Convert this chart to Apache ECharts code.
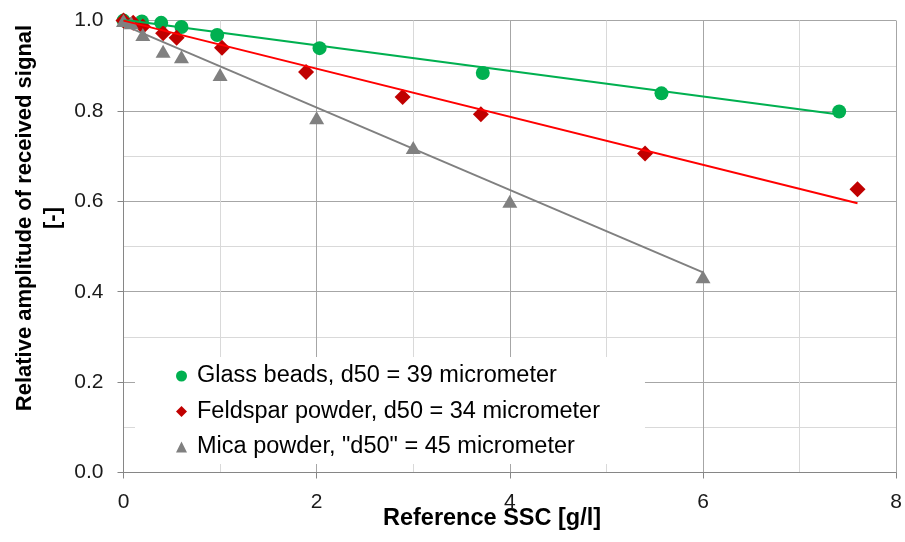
<!DOCTYPE html>
<html>
<head>
<meta charset="utf-8">
<title>Relative amplitude vs SSC</title>
<script src="https://cdn.jsdelivr.net/npm/echarts@6/dist/echarts.min.js"></script>
<style>
  html, body { margin: 0; padding: 0; background: #fff; }
  #chart { width: 905px; height: 542px; }
</style>
</head>
<body>
<div id="chart"></div>
<script>
const glassName = 'Glass beads, d50 = 39 micrometer'
const glassX = [0, 0.19, 0.39, 0.6, 0.97, 2.03, 3.72, 5.57, 7.41]
const glassY = [1.0, 0.998, 0.995, 0.986, 0.968, 0.939, 0.884, 0.839, 0.799]

const feldName = 'Feldspar powder, d50 = 34 micrometer'
const feldX = [0, 0.1, 0.2, 0.41, 0.55, 1.02, 1.89, 2.89, 3.7, 5.4, 7.6]
const feldY = [1.0, 0.995, 0.987, 0.972, 0.962, 0.94, 0.886, 0.831, 0.793, 0.706, 0.627]

const micaName = 'Mica powder, "d50" = 45 micrometer'
const micaX = [0, 0.08, 0.2, 0.41, 0.6, 1.0, 2.0, 3.0, 4.0, 6.0]
const micaY = [1.0, 0.995, 0.969, 0.932, 0.92, 0.881, 0.785, 0.719, 0.6, 0.433]

// linear trend lines (start / end as drawn)
const glassFitX = [0, 7.35]
const glassFitY = [1.002, 0.794]
const feldFitX = [0, 7.6]
const feldFitY = [1.0, 0.596]
const micaFitX = [0, 6.0]
const micaFitY = [0.99, 0.443]

const xTicks = [0, 2, 4, 6, 8]
const yTicks = [0, 0.2, 0.4, 0.6, 0.8, 1.0]

const font = "'Liberation Sans', Arial, sans-serif"

function pairs(xs, ys) {
  return xs.map((x, i) => [x, ys[i]])
}

const chart = echarts.init(document.getElementById('chart'))

const axisCommon = {
  type: 'value',
  axisLine: { show: true, lineStyle: { color: '#868686', width: 1 } },
  axisTick: { show: true, inside: false, length: 6, lineStyle: { color: '#868686' } },
  splitLine: { show: true, lineStyle: { color: '#a6a6a6', width: 1 } },
  minorTick: { show: false, splitNumber: 2 },
  minorSplitLine: { show: true, lineStyle: { color: '#d9d9d9', width: 1 } },
}

const option = {
  animation: false,
  backgroundColor: '#fff',
  textStyle: { fontFamily: font },
  grid: { left: 123.5, right: 5, top: 20.6, bottom: 69.5, containLabel: false },
  xAxis: Object.assign({}, axisCommon, {
    min: xTicks[0],
    max: xTicks[xTicks.length - 1],
    interval: 2,
    axisLabel: { margin: 19, fontSize: 21, color: '#1a1a1a', fontFamily: font },
  }),
  yAxis: Object.assign({}, axisCommon, {
    min: yTicks[0],
    max: yTicks[yTicks.length - 1],
    interval: 0.2,
    axisLabel: {
      margin: 20,
      fontSize: 21,
      color: '#1a1a1a',
      fontFamily: font,
      formatter: (v) => v.toFixed(1),
    },
  }),
  legend: {
    data: [glassName, feldName, micaName],
    orient: 'vertical',
    left: 135,
    top: 357,
    padding: [7, 45, 5, 41],
    itemGap: 11.5,
    itemWidth: 11,
    itemHeight: 11,
    backgroundColor: '#fff',
    z: 10,
    textStyle: {
      fontSize: 23.5,
      color: '#000',
      lineHeight: 24,
      fontFamily: font,
      padding: [0, 0, 0, 5],
    },
  },
  graphic: [
    {
      type: 'text',
      x: 39,
      y: 218,
      rotation: Math.PI / 2,
      style: {
        text: 'Relative amplitude of received signal\n[-]',
        font: 'bold 22px ' + font,
        fill: '#000',
        align: 'center',
        verticalAlign: 'middle',
        lineHeight: 28,
      },
    },
    {
      type: 'text',
      x: 492,
      y: 519,
      style: {
        text: 'Reference SSC [g/l]',
        font: 'bold 23.5px ' + font,
        fill: '#000',
        align: 'center',
        verticalAlign: 'middle',
      },
    },
  ],
  series: [
    {
      name: glassName,
      type: 'scatter',
      symbol: 'circle',
      symbolSize: 14,
      itemStyle: { color: '#00b050', opacity: 1 },
      data: pairs(glassX, glassY),
      z: 2,
    },
    {
      name: feldName,
      type: 'scatter',
      symbol: 'diamond',
      symbolSize: 16,
      itemStyle: { color: '#c00000', opacity: 1 },
      data: pairs(feldX, feldY),
      z: 3,
    },
    {
      name: micaName,
      type: 'scatter',
      symbol: 'triangle',
      symbolSize: [15, 13],
      itemStyle: { color: '#808080', opacity: 1 },
      data: pairs(micaX, micaY),
      z: 4,
    },
    {
      name: 'glass trend',
      type: 'line',
      symbol: 'none',
      silent: true,
      lineStyle: { color: '#00b050', width: 2 },
      data: pairs(glassFitX, glassFitY),
      z: 5,
    },
    {
      name: 'feldspar trend',
      type: 'line',
      symbol: 'none',
      silent: true,
      lineStyle: { color: '#ff0000', width: 2 },
      data: pairs(feldFitX, feldFitY),
      z: 5,
    },
    {
      name: 'mica trend',
      type: 'line',
      symbol: 'none',
      silent: true,
      lineStyle: { color: '#808080', width: 2 },
      data: pairs(micaFitX, micaFitY),
      z: 5,
    },
  ],
}

chart.setOption(option)
</script>
</body>
</html>
